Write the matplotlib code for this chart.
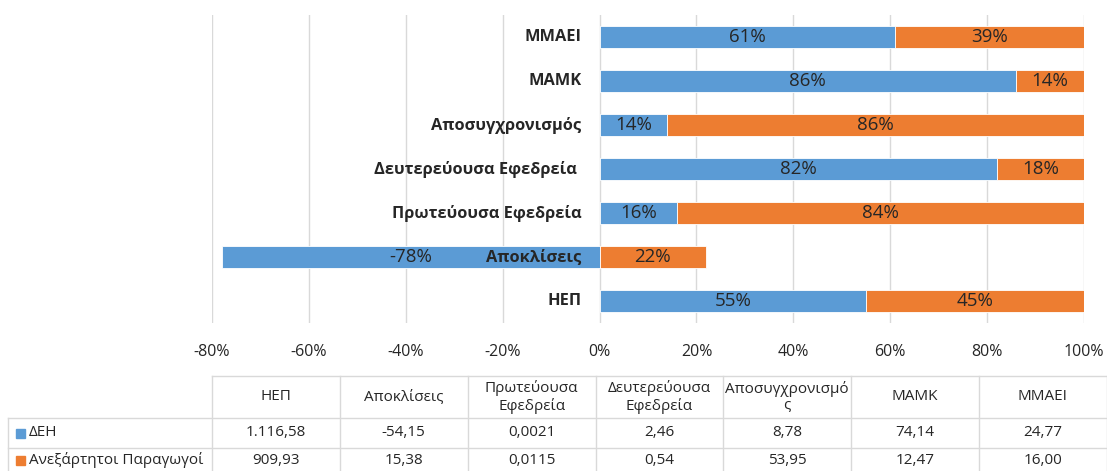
import matplotlib.pyplot as plt
import matplotlib

matplotlib.rcParams['font.family'] = ['Open Sans', 'DejaVu Sans']

# categories (bottom to top on the chart)
categories = ['ΗΕΠ', 'Αποκλίσεις', 'Πρωτεύουσα Εφεδρεία', 'Δευτερεύουσα Εφεδρεία ',
              'Αποσυγχρονισμός', 'ΜΑΜΚ', 'ΜΜΑΕΙ']
# shares in percent as shown on the bars
deh_pct = [55, -78, 16, 82, 14, 86, 61]
ind_pct = [45, 22, 84, 18, 86, 14, 39]

# data table below the chart
table_headers = ['ΗΕΠ', 'Αποκλίσεις', 'Πρωτεύουσα\nΕφεδρεία', 'Δευτερεύουσα\nΕφεδρεία',
                 'Αποσυγχρονισμό\nς', 'ΜΑΜΚ', 'ΜΜΑΕΙ']
series_names = ['ΔΕΗ', 'Ανεξάρτητοι Παραγωγοί']
deh_values = ['1.116,58', '-54,15', '0,0021', '2,46', '8,78', '74,14', '24,77']
ind_values = ['909,93', '15,38', '0,0115', '0,54', '53,95', '12,47', '16,00']

blue = '#5B9BD5'
orange = '#ED7D31'
grid_c = '#D9D9D9'
txt_c = '#262626'

W, H = 1107, 471
fig = plt.figure(figsize=(W / 100, H / 100), dpi=100)

# main chart axes: x from 212 to 1084 px, y from 15 to 323 px
ax = fig.add_axes([212 / W, 1 - 323 / H, (1084 - 212) / W, (323 - 15) / H])
y = list(range(len(categories)))
deh = [v / 100 for v in deh_pct]
ind = [v / 100 for v in ind_pct]
ax.barh(y, deh, height=0.5, color=blue, edgecolor='white', linewidth=0.6, zorder=2)
ax.barh(y, ind, height=0.5, left=[max(d, 0) for d in deh], color=orange,
        edgecolor='white', linewidth=0.6, zorder=2)

for i in y:
    d = deh[i]
    start = max(d, 0)
    ax.text(d / 2, i, f'{deh_pct[i]}%', ha='center', va='center', fontsize=13.5, color=txt_c, zorder=3)
    ax.text(start + ind[i] / 2, i, f'{ind_pct[i]}%', ha='center', va='center', fontsize=13.5,
            color=txt_c, zorder=3)

# category names next to the zero line
for i, name in zip(y, categories):
    ax.annotate(name, xy=(0, i), xytext=(-18, 0), textcoords='offset pixels',
                ha='right', va='center', fontsize=11.8, fontweight='bold', color=txt_c, zorder=4)

ax.set_xlim(-0.8, 1.0)
ax.set_ylim(-0.5, 6.5)
xt = [-0.8, -0.6, -0.4, -0.2, 0, 0.2, 0.4, 0.6, 0.8, 1.0]
ax.set_xticks(xt)
ax.set_xticklabels([f'{round(v * 100)}%' for v in xt], fontsize=11.5, color=txt_c)
ax.tick_params(axis='x', length=0, pad=15)
ax.xaxis.grid(True, color=grid_c, linewidth=1, zorder=0)
ax.set_axisbelow(True)
ax.set_yticks([])
for s in ax.spines.values():
    s.set_visible(False)

# data table drawn in pixel coordinates
tab = fig.add_axes([0, 0, 1, 1])
tab.set_xlim(0, W)
tab.set_ylim(H, 0)
tab.axis('off')

col_left = 212
col_w = (979 - 212) / 6
row_y = [376, 418, 448, 478]
first_left = 8
ncols = len(table_headers)

lw = 1.0
# horizontal lines
tab.plot([col_left, col_left + ncols * col_w], [row_y[0], row_y[0]], color=grid_c, lw=lw)
for ry in row_y[1:]:
    tab.plot([first_left, col_left + ncols * col_w], [ry, ry], color=grid_c, lw=lw)
# vertical lines
tab.plot([first_left, first_left], [row_y[1], row_y[3]], color=grid_c, lw=lw)
for c in range(ncols + 1):
    x = col_left + c * col_w
    tab.plot([x, x], [row_y[0], row_y[3]], color=grid_c, lw=lw)

fs = 11
for c in range(ncols):
    cx = col_left + (c + 0.5) * col_w
    tab.text(cx, (row_y[0] + row_y[1]) / 2, table_headers[c], ha='center', va='center',
             fontsize=fs, color=txt_c, linespacing=1.15)
    tab.text(cx, (row_y[1] + row_y[2]) / 2, deh_values[c], ha='center', va='center',
             fontsize=fs, color=txt_c)
    tab.text(cx, (row_y[2] + row_y[3]) / 2 - 3, ind_values[c], ha='center', va='center',
             fontsize=fs, color=txt_c)

# legend keys in the first column
for k, (name, col) in enumerate(zip(series_names, [blue, orange])):
    yc = (row_y[k + 1] + row_y[k + 2]) / 2 - (3 if k == 1 else 0)
    tab.add_patch(plt.Rectangle((16, yc - 4.5), 9, 9, color=col))
    tab.text(29, yc, name, ha='left', va='center', fontsize=fs, color=txt_c)

fig.savefig('out.png', dpi=100)
